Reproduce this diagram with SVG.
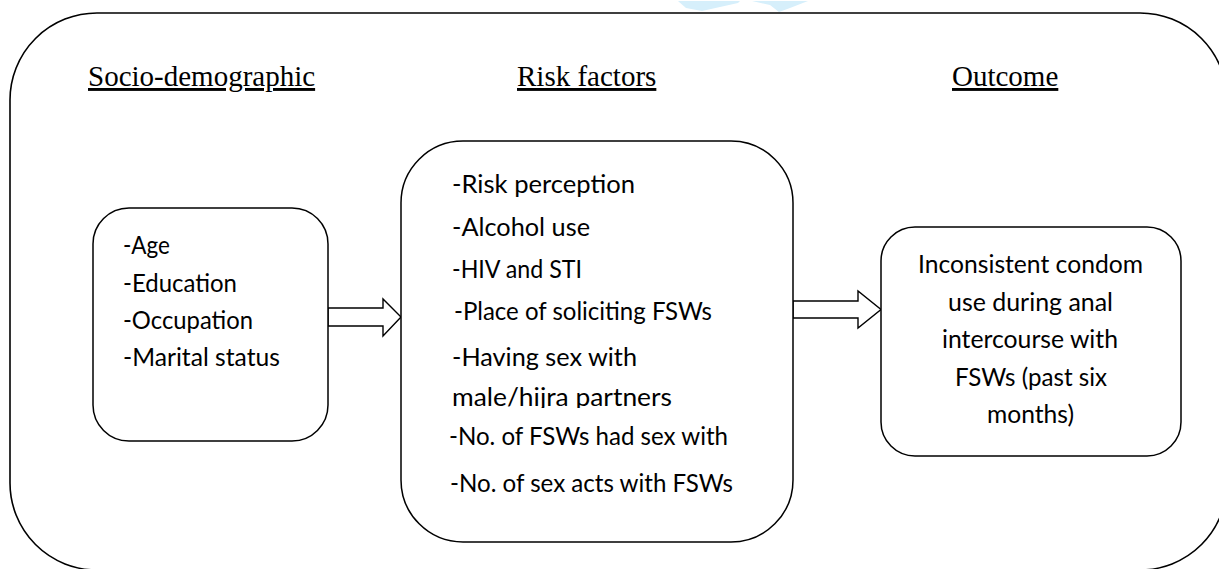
<svg xmlns="http://www.w3.org/2000/svg" width="1219" height="569" viewBox="0 0 1219 569">
<style>
.frame{fill:none;stroke:#000;stroke-width:1.6}
.box{fill:#fff;stroke:#000;stroke-width:1.5}
.arrow{fill:#fff;stroke:#000;stroke-width:1.4;stroke-linejoin:miter}
.head{font-family:"Liberation Serif","Times New Roman",serif;font-size:29px;fill:#000;text-decoration:underline}
.body{font-family:Lato,"Open Sans","Liberation Sans",sans-serif;font-size:25px;fill:#000}
</style>
<defs>
<clipPath id="clipHijra"><rect x="440" y="375" width="320" height="33"/></clipPath>
</defs>
<rect width="1219" height="569" fill="#fff"/>
<g id="watermark" fill="#d6effb">
<polygon points="678,1 740,1 738,3 702,11 686,8"/>
<polygon points="752,1 808,1 790,8 779,12 770,5"/>
</g>
<g id="frame"><rect class="frame" x="10" y="13" width="1217" height="557" rx="87" ry="87"/></g>
<g id="headings">
<text class="head" x="88" y="86">Socio-demographic</text>
<text class="head" x="517" y="86">Risk factors</text>
<text class="head" x="952" y="86">Outcome</text>
</g>
<g id="connectors">
<polygon class="arrow" points="328,308 383,308 383,299 401,317 383,336 383,326 328,326"/>
<polygon class="arrow" points="793,301 858,301 858,291 881,309.5 858,328 858,318 793,318"/>
</g>
<g id="node-sociodemographic">
<rect class="box" x="93" y="208" width="235" height="233" rx="36" ry="36"/>
<text class="body" x="123" y="254" textLength="47" lengthAdjust="spacingAndGlyphs">-Age</text>
<text class="body" x="123" y="292" textLength="114" lengthAdjust="spacingAndGlyphs">-Education</text>
<text class="body" x="123" y="329" textLength="130" lengthAdjust="spacingAndGlyphs">-Occupation</text>
<text class="body" x="123" y="366" textLength="157" lengthAdjust="spacingAndGlyphs">-Marital status</text>
</g>
<g id="node-risk-factors">
<rect class="box" x="401" y="141" width="392" height="401" rx="62" ry="62"/>
<text class="body" x="452" y="193" textLength="183" lengthAdjust="spacingAndGlyphs">-Risk perception</text>
<text class="body" x="452" y="236" textLength="138" lengthAdjust="spacingAndGlyphs">-Alcohol use</text>
<text class="body" x="452" y="278" textLength="130" lengthAdjust="spacingAndGlyphs">-HIV and STI</text>
<text class="body" x="454" y="320" textLength="258" lengthAdjust="spacingAndGlyphs">-Place of soliciting FSWs</text>
<text class="body" x="452" y="366" textLength="185" lengthAdjust="spacingAndGlyphs">-Having sex with</text>
<text class="body" x="452" y="406" textLength="220" lengthAdjust="spacingAndGlyphs" clip-path="url(#clipHijra)">male/hijra partners</text>
<text class="body" x="449" y="445" textLength="279" lengthAdjust="spacingAndGlyphs">-No. of FSWs had sex with</text>
<text class="body" x="450" y="492" textLength="283" lengthAdjust="spacingAndGlyphs">-No. of sex acts with FSWs</text>
</g>
<g id="node-outcome">
<rect class="box" x="881" y="227" width="300" height="229" rx="34" ry="34"/>
<text class="body" x="918" y="273" textLength="225" lengthAdjust="spacingAndGlyphs">Inconsistent condom</text>
<text class="body" x="948" y="311" textLength="165" lengthAdjust="spacingAndGlyphs">use during anal</text>
<text class="body" x="942" y="348" textLength="176" lengthAdjust="spacingAndGlyphs">intercourse with</text>
<text class="body" x="955" y="386" textLength="152" lengthAdjust="spacingAndGlyphs">FSWs (past six</text>
<text class="body" x="987" y="423" textLength="87" lengthAdjust="spacingAndGlyphs">months)</text>
</g>
</svg>
